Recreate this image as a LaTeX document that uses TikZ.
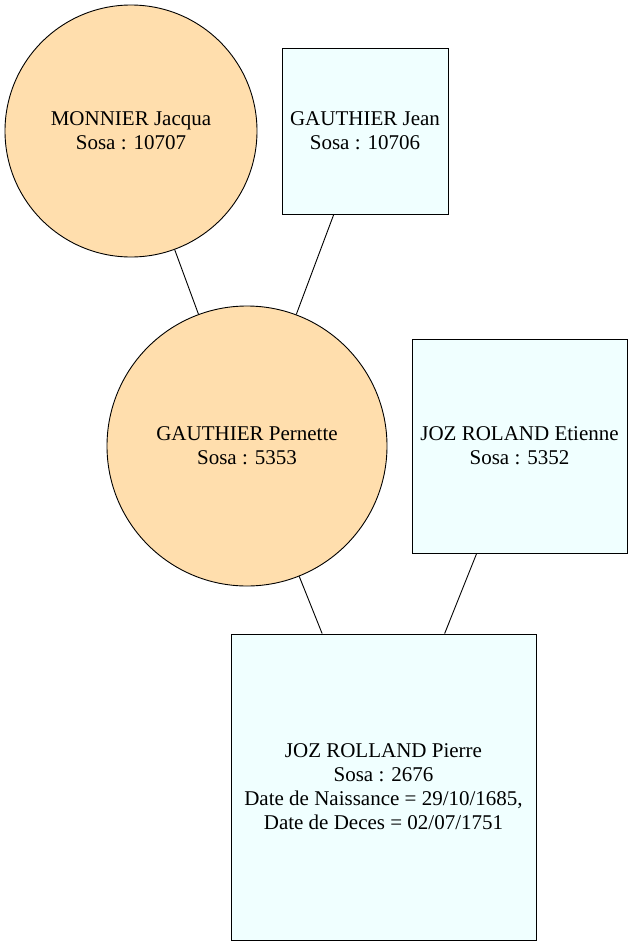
\documentclass[tikz,border=0pt]{standalone}
\usepackage{fontspec}
\setmainfont{Liberation Serif}
\definecolor{femme}{HTML}{FFDEAD}
\definecolor{homme}{HTML}{F0FFFF}

\begin{document}
\begin{tikzpicture}[x=1pt,y=-1pt,
    line width=0.9pt,
    personne/.style={draw=black,align=center,inner sep=0pt,
        font=\fontsize{21}{24}\selectfont},
    femmebox/.style={personne,circle,fill=femme,minimum size=#1},
    hommebox/.style={personne,rectangle,fill=homme}]
    \useasboundingbox (0,0) rectangle (632,946);
    \node[femmebox=252pt] (jacqua) at (131,131) {MONNIER Jacqua\\Sosa : 10707};
    \node[hommebox,minimum width=166pt,minimum height=166pt] (jean) at (365,131) {GAUTHIER Jean\\Sosa : 10706};
    \node[femmebox=280pt] (pernette) at (247,446) {GAUTHIER Pernette\\Sosa : 5353};
    \node[hommebox,minimum width=215pt,minimum height=214pt] (etienne) at (519.5,446) {JOZ ROLAND Etienne\\Sosa : 5352};
    \node[hommebox,minimum width=305pt,minimum height=306pt] (pierre) at (383.5,787) {JOZ ROLLAND Pierre\\Sosa : 2676\\Date de Naissance = 29/10/1685,\\Date de Deces = 02/07/1751};
    \draw (jacqua) -- (pernette);
    \draw (jean) -- (pernette);
    \draw (pernette) -- (pierre);
    \draw (etienne) -- (pierre);
\end{tikzpicture}
\end{document}
